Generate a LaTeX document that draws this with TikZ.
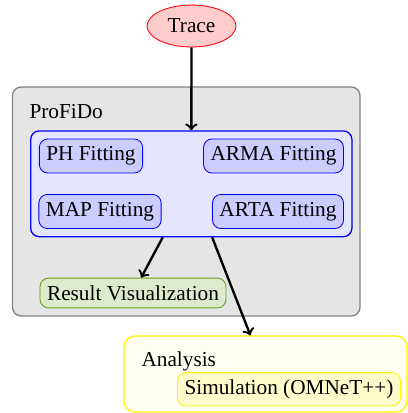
\documentclass[tikz,border=0pt]{standalone}
\usepackage{fontspec}
\setmainfont{Liberation Serif}
\usetikzlibrary{shapes.geometric}
\definecolor{resgreen}{RGB}{105,160,25}
\begin{document}
\begin{tikzpicture}[x=0.47pt,y=-0.47pt,
    box/.style={draw, rounded corners=4pt, inner sep=0pt},
    fitbox/.style={box, draw=blue, fill=blue!20, minimum height=16pt, inner sep=3.3pt},
    arr/.style={->, line width=1.1pt}]
    \useasboundingbox (0,0) rectangle (408,413);

    \node[box, draw=gray, fill=gray!20, line width=0.6pt, minimum width=163.3pt, minimum height=107.6pt] (profido) at (186.25,201.5) {};
    \node[anchor=base west] (pflabel) at (22,118) {ProFiDo};
    \node[box, draw=blue, fill=blue!10, semithick, minimum width=151pt, minimum height=49.7pt] (fit) at (191.3,183.8) {};

    \node[fitbox] (ph) at (91,156) {PH Fitting};
    \node[fitbox] (arma) at (273.5,156) {ARMA Fitting};
    \node[fitbox] (map) at (100,211.5) {MAP Fitting};
    \node[fitbox] (arta) at (278,211.5) {ARTA Fitting};

    \node[box, draw=resgreen, fill=resgreen!22, minimum height=14pt, inner sep=3.3pt] (res) at (133,293) {Result Visualization};

    \node[ellipse, draw=red, fill=red!20, minimum width=41.8pt, minimum height=19.7pt, inner sep=0pt] (trace) at (191.5,26) {Trace};

    \node[box, draw=yellow, fill=yellow!5, semithick, rounded corners=5pt, minimum width=133pt, minimum height=35.7pt] (analysis) at (265.5,374) {};
    \node[anchor=base west] (anlabel) at (134,366.7) {Analysis};
    \node[box, draw=yellow, fill=yellow!20, minimum height=15.7pt, inner sep=3.3pt] (sim) at (289,389.3) {Simulation (OMNeT++)};

    \draw[arr] (trace) to (fit);
    \draw[arr] (fit) to (res);
    \draw[arr] (fit) to (analysis);
\end{tikzpicture}
\end{document}
